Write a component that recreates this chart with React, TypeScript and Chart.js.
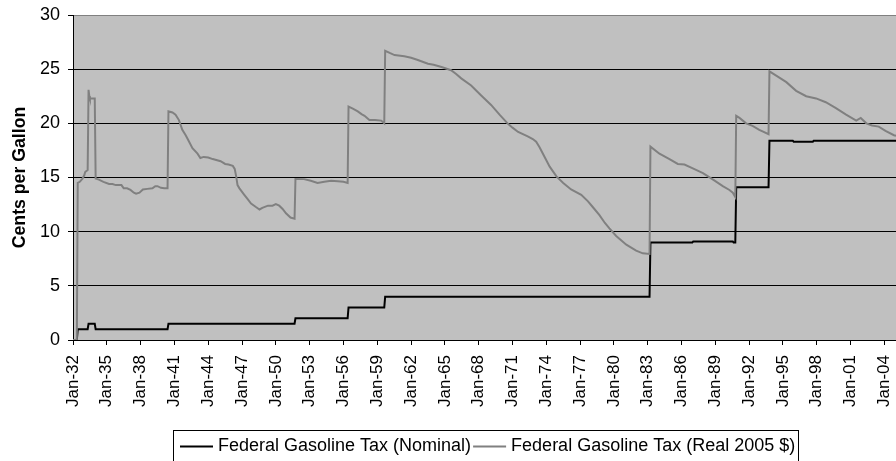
import React, { useEffect, useRef } from 'react';
import { Chart, registerables } from 'chart.js';

Chart.register(...registerables);

// X axis tick positions (decimal years) and their labels
const tickYears = [1932, 1935, 1938, 1941, 1944, 1947, 1950, 1953, 1956, 1959, 1962, 1965, 1968, 1971, 1974, 1977, 1980, 1983, 1986, 1989, 1992, 1995, 1998, 2001, 2004];
const tickLabels = ['Jan-32', 'Jan-35', 'Jan-38', 'Jan-41', 'Jan-44', 'Jan-47', 'Jan-50', 'Jan-53', 'Jan-56', 'Jan-59', 'Jan-62', 'Jan-65', 'Jan-68', 'Jan-71', 'Jan-74', 'Jan-77', 'Jan-80', 'Jan-83', 'Jan-86', 'Jan-89', 'Jan-92', 'Jan-95', 'Jan-98', 'Jan-01', 'Jan-04'];

const seriesLabels = ['Federal Gasoline Tax (Nominal)', 'Federal Gasoline Tax (Real 2005 $)'];

// Nominal tax (cents per gallon)
const nomYears = [1932.0, 1932.34, 1932.42, 1933.30, 1933.38, 1933.93, 1934.01, 1940.39, 1940.47, 1951.66, 1951.74, 1956.37, 1956.45, 1959.62, 1959.70, 1983.16, 1983.24, 1986.96, 1987.04, 1990.55, 1990.62, 1990.77, 1990.85, 1993.72, 1993.80, 1995.87, 1995.95, 1997.65, 1997.73, 2005.03];
const nomCents = [0, 0, 1.0, 1.0, 1.5, 1.5, 1.0, 1.0, 1.5, 1.5, 2.0, 2.0, 3.0, 3.0, 4.0, 4.0, 9.0, 9.0, 9.1, 9.1, 9.0, 9.0, 14.1, 14.1, 18.4, 18.4, 18.3, 18.3, 18.4, 18.4];

// Real tax (2005 cents per gallon)
const realYears = [
  1932.0, 1932.34, 1932.42, 1932.6, 1932.84, 1933.0, 1933.08, 1933.30, 1933.38, 1933.45, 1933.5, 1933.93,
  1934.01, 1934.3, 1934.7, 1935.2, 1935.5, 1935.8, 1936.3, 1936.5, 1936.8, 1937.1, 1937.4, 1937.6, 1937.9,
  1938.2, 1938.6, 1939.05, 1939.3, 1939.5, 1939.8, 1940.1, 1940.39, 1940.47, 1940.83, 1941.1, 1941.4, 1941.7,
  1942.0, 1942.2, 1942.6, 1943.05, 1943.3, 1943.6, 1944.0, 1944.4, 1945.1, 1945.5, 1945.8, 1946.18, 1946.35,
  1946.48, 1946.6, 1946.77, 1947.2, 1947.5, 1947.8, 1948.2, 1948.55, 1948.8, 1949.3, 1949.7, 1950.0, 1950.3,
  1950.6, 1950.9, 1951.3, 1951.66, 1951.74, 1952.5, 1953.1, 1953.7, 1954.3, 1954.9, 1955.5, 1956.0, 1956.37,
  1956.45, 1956.83, 1957.27, 1957.6, 1957.87, 1958.3, 1958.8, 1959.35, 1959.62, 1959.70, 1960.1, 1960.53,
  1961.4, 1962.0, 1962.6, 1963.5, 1964.0, 1964.7, 1965.55, 1966.0, 1966.45, 1967.33, 1968.2, 1969.1, 1969.85,
  1970.6, 1971.0, 1971.5, 1972.35, 1972.8, 1973.1, 1973.4, 1973.7, 1974.3, 1974.9, 1975.5, 1976.2, 1977.1,
  1977.7, 1978.1, 1978.7, 1979.2, 1979.6, 1980.2, 1981.1, 1981.97, 1982.56, 1983.16, 1983.24, 1984.04, 1984.93,
  1985.67, 1986.26, 1987.0, 1987.9, 1988.8, 1989.66, 1990.25, 1990.55, 1990.77, 1990.85, 1991.14, 1991.73,
  1992.3, 1992.9, 1993.72, 1993.80, 1994.4, 1995.3, 1996.17, 1997.06, 1997.94, 1998.8, 1999.7, 2000.6, 2001.5,
  2001.9, 2002.4, 2002.9, 2003.5, 2004.1, 2004.85, 2005.03
];
const realCents = [
  0, 0, 14.5, 14.6, 14.9, 15.2, 15.5, 15.7, 23.1, 22.5, 22.3, 22.3,
  14.9, 14.8, 14.6, 14.4, 14.4, 14.3, 14.3, 14.0, 14.0, 13.85, 13.6, 13.5, 13.6,
  13.9, 13.95, 14.0, 14.2, 14.2, 14.05, 14.0, 14.0, 21.1, 21.0, 20.8, 20.3, 19.4,
  18.9, 18.5, 17.7, 17.2, 16.8, 16.9, 16.85, 16.7, 16.5, 16.25, 16.2, 16.07, 15.8,
  15.1, 14.3, 14.0, 13.4, 13.0, 12.6, 12.3, 12.05, 12.2, 12.4, 12.4, 12.55, 12.4,
  12.1, 11.7, 11.3, 11.2, 14.87, 14.85, 14.7, 14.5, 14.6, 14.7, 14.65, 14.6, 14.5,
  21.55, 21.35, 21.1, 20.85, 20.7, 20.3, 20.3, 20.25, 20.0, 26.7, 26.5, 26.3,
  26.2, 26.05, 25.85, 25.5, 25.4, 25.2, 24.9, 24.55, 24.15, 23.5, 22.6, 21.7, 20.8,
  19.95, 19.6, 19.2, 18.8, 18.55, 18.3, 17.8, 17.2, 16.0, 15.1, 14.5, 13.9, 13.4,
  12.8, 12.3, 11.55, 10.8, 10.3, 9.6, 8.8, 8.25, 8.0, 7.94, 17.85, 17.2, 16.7,
  16.25, 16.2, 15.85, 15.4, 14.8, 14.2, 13.85, 13.6, 13.2, 20.7, 20.5, 20.0,
  19.76, 19.4, 19.0, 24.8, 24.4, 23.8, 23.0, 22.5, 22.3, 21.95, 21.4, 20.8, 20.25,
  20.5, 20.0, 19.8, 19.7, 19.3, 18.9, 18.85
];

const FONT = '"Liberation Sans", Arial, sans-serif';

export default function App() {
  const ref = useRef<HTMLCanvasElement>(null);

  useEffect(() => {
    document.body.style.margin = '0';
    const canvas = ref.current;
    if (!canvas) return;

    const plotBg = {
      id: 'plotBg',
      beforeDraw(chart: any) {
        const { ctx, chartArea: a } = chart;
        ctx.save();
        ctx.fillStyle = '#c0c0c0';
        ctx.fillRect(a.left, a.top, a.right - a.left, a.bottom - a.top);
        ctx.restore();
      },
    };

    const boxLegend = {
      id: 'boxLegend',
      afterDraw(chart: any) {
        const ctx = chart.ctx;
        ctx.save();
        ctx.font = `18px ${FONT}`;
        ctx.textBaseline = 'alphabetic';
        ctx.textAlign = 'left';
        const boxLeft = 173.5;
        const boxTop = 430.5;
        let x = 180;
        const lineY = 446.5;
        const textY = 451;
        chart.data.datasets.forEach((ds: any) => {
          ctx.strokeStyle = ds.borderColor;
          ctx.lineWidth = 2;
          ctx.beginPath();
          ctx.moveTo(x, lineY);
          ctx.lineTo(x + 33, lineY);
          ctx.stroke();
          x += 38;
          ctx.fillStyle = '#000';
          ctx.fillText(ds.label, x, textY);
          x += ctx.measureText(ds.label).width + 2;
        });
        ctx.strokeStyle = '#000';
        ctx.lineWidth = 1;
        ctx.strokeRect(boxLeft, boxTop, Math.round(x + 1) - boxLeft + 0.5, 40);
        ctx.restore();
      },
    };

    const chart = new Chart(canvas, {
      type: 'line',
      data: {
        datasets: [
          {
            label: seriesLabels[0],
            data: nomYears.map((yr, i) => ({ x: yr, y: nomCents[i] })),
            borderColor: '#000000',
            backgroundColor: '#000000',
            borderWidth: 2,
            pointRadius: 0,
            tension: 0,
            order: 1,
          },
          {
            label: seriesLabels[1],
            data: realYears.map((yr, i) => ({ x: yr, y: realCents[i] })),
            borderColor: '#808080',
            backgroundColor: '#808080',
            borderWidth: 2,
            pointRadius: 0,
            tension: 0,
            order: 0,
          },
        ],
      },
      options: {
        animation: false,
        responsive: false,
        devicePixelRatio: 1,
        layout: { padding: { top: 15, left: 0, right: 0, bottom: 0 } },
        plugins: {
          legend: { display: false },
          tooltip: { enabled: false },
        },
        scales: {
          x: {
            type: 'linear',
            min: 1932,
            max: 2005.03,
            afterBuildTicks: (scale: any) => {
              scale.ticks = tickYears.map((v) => ({ value: v }));
            },
            afterFit: (scale: any) => {
              scale.height = 121;
              scale.paddingLeft = 0;
              scale.paddingRight = 0;
            },
            grid: {
              display: true,
              drawOnChartArea: false,
              drawTicks: true,
              tickLength: 5,
              tickColor: '#000',
              color: '#000',
            },
            border: { display: true, color: '#000', width: 1 },
            ticks: {
              autoSkip: false,
              maxRotation: 90,
              minRotation: 90,
              padding: 10,
              color: '#000',
              font: { family: FONT, size: 17 },
              callback: (_v: any, i: number) => tickLabels[i],
            },
          },
          y: {
            min: 0,
            max: 30,
            afterFit: (scale: any) => {
              scale.width = 73;
              scale.paddingTop = 0;
              scale.paddingBottom = 0;
            },
            grid: {
              color: (c: any) => (c.tick && c.tick.value === 30 ? '#808080' : '#000'),
              lineWidth: 1,
              drawTicks: true,
              tickLength: 5,
              tickColor: '#000',
            },
            border: { display: true, color: '#000', width: 1 },
            ticks: {
              stepSize: 5,
              padding: 8,
              color: '#000',
              font: { family: FONT, size: 18 },
            },
            title: {
              display: true,
              text: 'Cents per Gallon',
              color: '#000',
              font: { family: FONT, size: 17.7, weight: 'bold' },
              padding: { top: 9, bottom: 0 },
            },
          },
        },
      },
      plugins: [plotBg, boxLegend],
    });

    return () => chart.destroy();
  }, []);

  return (
    <div style={{ width: 896, height: 461 }}>
      <canvas ref={ref} width={896} height={461} style={{ display: 'block' }} />
    </div>
  );
}
